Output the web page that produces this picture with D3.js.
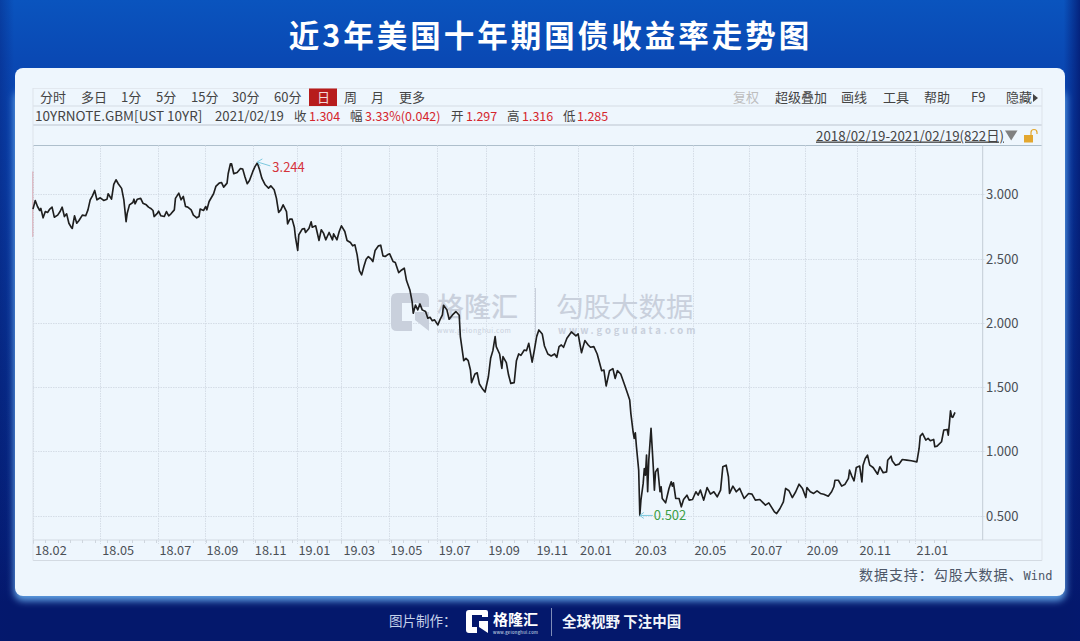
<!DOCTYPE html>
<html><head><meta charset="utf-8">
<style>html,body{margin:0;padding:0;background:#04196f}svg{display:block}
text{font-family:"Noto Sans CJK SC","Noto Sans",sans-serif}</style>
<script src="https://cdn.jsdelivr.net/npm/d3@7/dist/d3.min.js"></script>
</head><body><svg id="c" width="1080" height="641"></svg>
<script>
const sessionIndex=[
0,2,4,6,7,9,11,13,15,17,19,22,24,26,28,30,32,34,35,37,39,41,44,47,49,51,53,55,57,60,63,66,67,70,72,74,76,79,81,83,84,86,89,90,91,93,96,98,101,103,105,107,108,111,112,114,117,119,121,123,126,127,130,132,134,136,138,141,143,146,148,149,152,154,155,157,161,163,166,168,170,173,174,176,177,179,182,185,187,189,191,193,196,198,200,202,204,207,210,212,215,217,219,221,223,226,227,229,231,233,234,236,237,240,242,243,246,248,249,252,255,257,259,261,264,267,268,271,273,275,278,280,283,285,287,289,291,
293,295,297,299,301,303,305,308,310,312,314,316,318,321,323,326,328,331,333,336,338,339,341,343,345,347,350,352,354,356,358,361,363,365,366,369,371,374,377,380,381,384,386,388,390,391,394,396,398,401,403,406,408,410,412,413,416,418,419,422,424,426,429,431,433,435,438,440,442,445,447,449,451,454,456,459,462,465,467,469,471,473,476,480,484,486,489,492,495,497,500,503,507,509,511,514,517,519,521,524,527,530,532,
533,535,536,537,538,540,541,542,544,545,546,547,548,549,551,553,554,555,557,559,560,561,564,567,569,570,571,573,576,578,580,583,585,588,591,593,595,598,601,604,607,610,613,615,618,620,621,624,627,630,634,638,641,644,648,653,656,661,663,666,669,671,674,677,680,683,686,
689,690,693,696,699,702,705,709,712,714,715,718,721,724,727,728,730,732,734,737,739,740,742,744,746,749,753,755,758,761,762,765,766,769,772,775,779,783,788,790,791,793,796,798,800,803,804,806,810,812,815,816,817,818,819,820,822];
const yieldValues=[
2.885,2.952,2.905,2.874,2.890,2.817,2.866,2.859,2.885,2.900,2.822,2.838,2.864,2.900,2.827,2.848,2.775,2.744,2.734,2.833,2.775,2.796,2.838,2.833,2.879,2.957,2.988,3.030,2.957,2.973,2.952,2.962,3.004,2.962,3.077,3.113,3.082,3.046,2.957,2.788,2.853,2.918,2.936,2.962,2.926,2.962,2.968,2.931,2.918,2.900,2.890,2.874,2.827,2.853,2.869,2.833,2.827,2.866,2.833,2.848,2.879,2.968,3.009,2.957,2.983,2.905,2.900,2.879,2.838,2.817,2.827,2.885,2.874,2.905,2.879,2.944,3.004,3.061,3.087,3.092,3.056,3.087,3.160,3.238,3.238,3.160,3.170,3.201,3.196,3.134,3.082,3.108,3.178,3.217,3.244,3.191,3.126,3.074,3.048,3.066,3.035,2.970,2.859,2.879,2.918,2.866,2.770,2.807,2.807,2.744,2.666,2.563,2.685,2.729,2.734,2.703,2.734,2.786,2.744,2.755,2.641,2.724,2.698,2.646,2.703,2.646,2.692,2.646,2.711,2.755,2.711,2.641,2.625,2.599,2.607,2.529,2.407,
2.373,2.438,2.495,2.516,2.500,2.477,2.563,2.599,2.604,2.521,2.516,2.529,2.537,2.477,2.469,2.391,2.407,2.425,2.329,2.256,2.165,2.075,2.139,2.101,2.147,2.101,2.088,2.036,2.043,2.017,2.023,1.984,2.028,2.062,2.137,2.101,2.028,2.062,2.088,2.059,1.893,1.706,1.724,1.706,1.633,1.535,1.602,1.612,1.524,1.483,1.462,1.581,1.724,1.784,1.893,1.815,1.758,1.646,1.737,1.690,1.594,1.529,1.535,1.706,1.758,1.747,1.789,1.784,1.841,1.695,1.789,1.893,1.945,1.914,1.820,1.758,1.742,1.758,1.732,1.815,1.828,1.810,1.880,1.929,1.898,1.914,1.768,1.862,1.828,1.810,1.815,1.758,1.628,1.633,1.509,1.628,1.644,1.568,1.628,1.602,1.529,1.452,1.400,
1.296,1.153,1.101,1.145,1.036,0.854,0.502,0.621,0.751,0.867,0.815,0.971,0.686,0.932,1.179,0.880,0.699,0.841,0.867,0.686,0.725,0.634,0.600,0.712,0.764,0.730,0.756,0.634,0.634,0.569,0.626,0.660,0.621,0.626,0.686,0.660,0.699,0.621,0.719,0.668,0.686,0.647,0.699,0.880,0.893,0.803,0.673,0.730,0.686,0.712,0.634,0.673,0.668,0.621,0.626,0.582,0.600,0.530,0.517,0.556,0.608,0.712,0.694,0.641,0.686,0.745,0.712,
0.642,0.719,0.686,0.673,0.693,0.673,0.667,0.652,0.686,0.725,0.776,0.776,0.730,0.745,0.790,0.854,0.808,0.771,0.875,0.886,0.763,0.893,0.945,0.971,0.893,0.875,0.823,0.880,0.834,0.841,0.932,0.963,0.927,0.893,0.901,0.937,0.932,0.927,0.919,1.023,1.119,1.140,1.088,1.101,1.083,1.093,1.036,1.041,1.075,1.166,1.171,1.127,1.218,1.316,1.270,1.265,1.304];
const monthLabels=["18.02","18.05","18.07","18.09","18.11","19.01","19.03","19.05","19.07","19.09","19.11","20.01","20.03","20.05","20.07","20.09","20.11","21.01"];
const monthIndex=[0,60,111,153,196,235,275,317,360,404,447,486,535,588,638,688,735,786];
const yTicks=[0.5,1,1.5,2,2.5,3];

const W=1080,H=641;
const svg=d3.select("#c");
const defs=svg.append("defs");
const bg=defs.append("linearGradient").attr("id","bg").attr("x1",0).attr("y1",0).attr("x2",0).attr("y2",1);
[[0,"#0a54be"],[.1,"#0a48b3"],[.3,"#0a3ea6"],[.6,"#072c8a"],[.85,"#051f78"],[.94,"#04186c"],[1,"#04186c"]].forEach(d=>bg.append("stop").attr("offset",d[0]).attr("stop-color",d[1]));
const side=defs.append("linearGradient").attr("id","side");
[[0,"#04186e",.35],[.013,"#04186e",0],[.985,"#04186e",0],[1,"#04186e",.8]].forEach(d=>side.append("stop").attr("offset",d[0]).attr("stop-color",d[1]).attr("stop-opacity",d[2]));
const glow=defs.append("filter").attr("id","glow").attr("x","-5%").attr("y","-5%").attr("width","110%").attr("height","110%");
glow.append("feGaussianBlur").attr("stdDeviation",3.5);

svg.append("rect").attr("width",W).attr("height",H).attr("fill","url(#bg)");
svg.append("rect").attr("width",W).attr("height",H).attr("fill","url(#side)");
svg.append("rect").attr("x",14).attr("y",90).attr("width",1052).attr("height",511).attr("rx",9).attr("fill","#5f9fe2").attr("filter","url(#glow)");
svg.append("rect").attr("x",15).attr("y",68).attr("width",1050).attr("height",528).attr("rx",8).attr("fill","#eef6fd");

svg.append("text").attr("x",550.5).attr("y",47).attr("text-anchor","middle").attr("fill","#fff").attr("font-size",30.5).attr("font-weight",700).attr("letter-spacing",3).text("近3年美国十年期国债收益率走势图");

// scales
const x=d3.scaleLinear().domain([0,822]).range([33,955]);
const y=d3.scaleLinear().domain([0.5,3]).range([515.7,194.3]);
const L=33,R=982.7,RR=1042,T=145.5,B=540,BB=560.5;

// frame
const g=svg.append("g");
const hl=(x1,x2,yy,c,w=1)=>g.append("line").attr("x1",x1).attr("x2",x2).attr("y1",yy).attr("y2",yy).attr("stroke",c).attr("stroke-width",w);
const vl=(xx,y1,y2,c,w=1)=>g.append("line").attr("x1",xx).attr("x2",xx).attr("y1",y1).attr("y2",y2).attr("stroke",c).attr("stroke-width",w);
hl(L,RR,88.5,"#e2e8ef");hl(L,RR,106,"#d5dce4");hl(L,RR,125,"#d5dde6",2);hl(L,RR,145.5,"#aebfcc",1.2);
hl(L,RR,B,"#d3dae2");hl(L,RR,BB,"#d3dae2");
vl(RR,88,BB,"#dde3ea");vl(L,88,BB,"#dde3ea");vl(R,T,B,"#c3ccd5");

// grid
const grid=svg.append("g").attr("stroke","#d5dde6").attr("stroke-width",1).attr("stroke-dasharray","1.5 1");
grid.selectAll("line.v").data(monthIndex).join("line").attr("x1",d=>Math.round(x(d))+.5).attr("x2",d=>Math.round(x(d))+.5).attr("y1",T).attr("y2",B+4);
grid.selectAll("line.h").data(yTicks).join("line").attr("x1",L).attr("x2",R+3).attr("y1",d=>Math.round(y(d))+.5).attr("y2",d=>Math.round(y(d))+.5);
svg.append("g").attr("stroke","#cfd6de").selectAll("line").data(d3.range(0,822,11)).join("line").attr("x1",d=>Math.round(x(d))+.5).attr("x2",d=>Math.round(x(d))+.5).attr("y1",B).attr("y2",B+3);
vl(L,171.5,237,"#dcbcc6",2);

// watermark
const wm=svg.append("g").attr("fill","#c9d0dc");
wm.append("path").attr("fill-rule","evenodd").attr("d","M397 293H423Q429 293 429 299V307H418V303H402V321H412V331H397Q391 331 391 325V299Q391 293 397 293ZM415 312H429V331L415 320Z");
wm.append("text").attr("x",437).attr("y",316.5).attr("font-size",27).attr("font-weight",500).text("格隆汇");
wm.append("text").attr("x",437).attr("y",333).attr("font-size",6.8).attr("letter-spacing",.55).attr("font-family","Roboto").text("www.gelonghui.com");
wm.append("rect").attr("x",535).attr("y",288).attr("width",1).attr("height",48);
wm.append("text").attr("x",556).attr("y",316.5).attr("font-size",27.5).text("勾股大数据");
wm.append("text").attr("x",558).attr("y",333.5).attr("font-size",9.5).attr("font-weight",700).attr("letter-spacing",2.9).attr("font-family","Roboto").text("www.gogudata.com");

// line
const line=d3.line().x(d=>x(d)).y((d,i)=>y(yieldValues[i]));
svg.append("path").datum(sessionIndex).attr("d",line).attr("fill","none").attr("stroke","#1f1f1f").attr("stroke-width",1.65).attr("stroke-linejoin","round");

// y axis labels
svg.append("g").selectAll("text").data(yTicks).join("text").attr("x",986).attr("y",d=>y(d)+5).attr("font-size",13).attr("fill","#4a4f55").attr("font-family","'Noto Sans'").text(d=>d3.format(".3f")(d));
// x axis labels
svg.append("g").selectAll("text").data(monthLabels).join("text").attr("x",d=>x(monthIndex[monthLabels.indexOf(d)])+2).attr("y",554.5).attr("font-size",12.7).attr("fill","#4a4f55").attr("font-family","'Noto Sans'").text(d=>d);

// extreme annotations
const hiI=yieldValues.indexOf(d3.max(yieldValues.slice(0,200))),loI=yieldValues.indexOf(d3.min(yieldValues));
const hx=x(sessionIndex[hiI]),hy=y(yieldValues[hiI]),lx=x(sessionIndex[loI]),ly=y(yieldValues[loI]);
svg.append("path").attr("d",`M${hx+13} ${hy+3}L${hx} ${hy-1}M${hx+5} ${hy-4}L${hx} ${hy-1}L${hx+3} ${hy+3}`).attr("fill","none").attr("stroke","#7cc8de");
svg.append("text").attr("x",hx+15).attr("y",hy+9.5).attr("font-size",13).attr("fill","#d5333b").attr("font-family","'Noto Sans'").text(d3.format(".3f")(yieldValues[hiI]));
svg.append("path").attr("d",`M${lx+13} ${ly}H${lx}M${lx+4} ${ly-3}L${lx} ${ly}L${lx+4} ${ly+3}`).attr("fill","none").attr("stroke","#7cc8de");
svg.append("text").attr("x",lx+14).attr("y",ly+4.5).attr("font-size",13).attr("fill","#3c9e46").attr("font-family","'Noto Sans'").text(d3.format(".3f")(yieldValues[loI]));

// toolbar
const tools=[["分时",40],["多日",81],["1分",121],["5分",156],["15分",191],["30分",232],["60分",274],["周",344],["月",371],["更多",399],["超级叠加",775],["画线",841],["工具",883],["帮助",924],["F9",971],["隐藏",1006]];
svg.append("rect").attr("x",309).attr("y",88.5).attr("width",28).attr("height",17.5).attr("fill","#b71c1c");
const tb=svg.append("g").attr("font-size",13).attr("fill","#444");
tb.selectAll("text").data(tools).join("text").attr("x",d=>d[1]).attr("y",102).text(d=>d[0]);
tb.append("text").attr("x",733).attr("y",102).attr("fill","#bdbdbd").text("复权");
tb.append("text").attr("x",317).attr("y",102).attr("fill","#f3d9d9").text("日");
svg.append("path").attr("d","M1033 94L1038 98L1033 102Z").attr("fill","#444");

const info=[["10YRNOTE.GBM[UST 10YR]",35,0,13.5],["2021/02/19",215,0,13.2],["收",294,0,12.5],["1.304",309,1,12.5],["幅",350,0,12.5],["3.33%(0.042)",365,1,12.5],["开",451,0,12.5],["1.297",466,1,12.5],["高",507,0,12.5],["1.316",522,1,12.5],["低",563,0,12.5],["1.285",577,1,12.5]];
svg.append("g").selectAll("text").data(info).join("text").attr("x",d=>d[1]).attr("y",120.5).attr("font-size",d=>d[3]).attr("fill",d=>d[2]?"#d5262e":"#444").text(d=>d[0]);

svg.append("text").attr("x",816).attr("y",140.5).attr("font-size",13.3).attr("fill","#444").attr("text-decoration","underline").text("2018/02/19-2021/02/19(822日)");
svg.append("path").attr("d","M1005 130.5H1017.5L1011.2 140.5Z").attr("fill","#808080");
svg.append("rect").attr("x",1024).attr("y",135).attr("width",9).attr("height",7.5).attr("fill","#e3a72f");
svg.append("path").attr("d","M1031 135V132.5A3 3 0 0 1 1037 132.5V134").attr("fill","none").attr("stroke","#e3a72f").attr("stroke-width",1.2);

// source
const src=svg.append("text").attr("x",859).attr("y",580).attr("font-size",14).attr("fill","#4d5768").attr("letter-spacing",.95);
src.append("tspan").text("数据支持\uFF1A勾股大数据、");
src.append("tspan").attr("font-family","'DejaVu Sans Mono'").attr("font-size",12).attr("letter-spacing",0).text("Wind");

// footer
svg.append("text").attr("x",389).attr("y",626).attr("font-size",13.5).attr("fill","#c5d1ea").text("图片制作\uFF1A");
svg.append("path").attr("fill","#fff").attr("fill-rule","evenodd").attr("d","M469 610H486Q488 610 488 612V617H482V615H472V627H477V633H469Q466 633 466 630V613Q466 610 469 610ZM479 621H488V633L479 627Z");
svg.append("text").attr("x",493).attr("y",625).attr("font-size",15).attr("font-weight",700).attr("fill","#fff").text("格隆汇");
svg.append("text").attr("x",493).attr("y",633.5).attr("font-size",4.2).attr("letter-spacing",.3).attr("font-family","Roboto").attr("fill","#dfe6f5").text("www.gelonghui.com");
svg.append("rect").attr("x",551).attr("y",608).attr("width",1).attr("height",28).attr("fill","#7f8db8");
svg.append("text").attr("x",562).attr("y",627).attr("font-size",14.5).attr("font-weight",700).attr("fill","#f2f5fb").text("全球视野 下注中国");
</script></body></html>
